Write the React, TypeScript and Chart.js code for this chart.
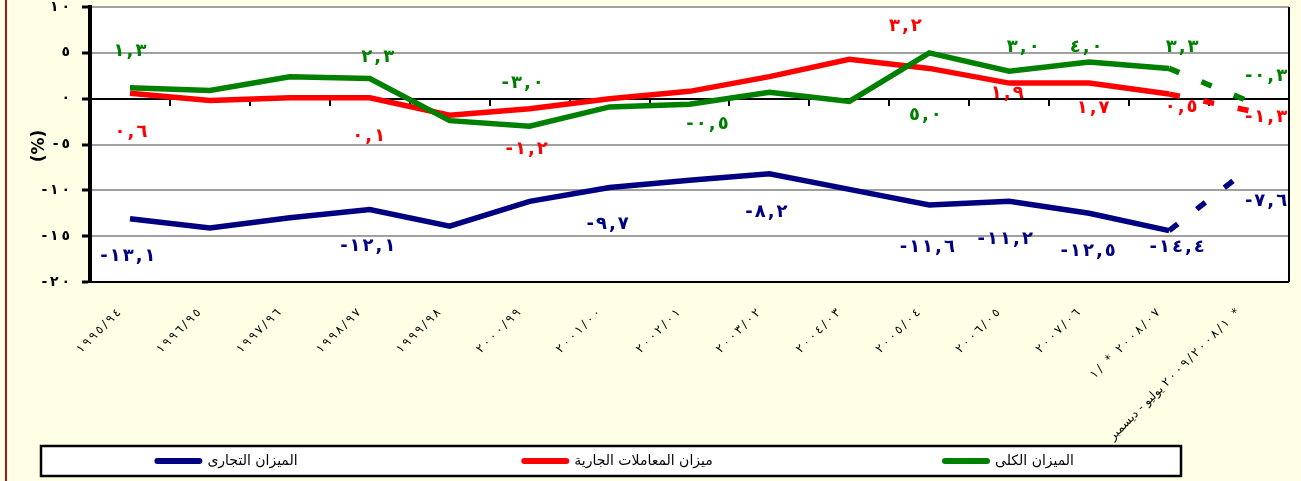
import React, { useEffect, useRef } from 'react';
import { Chart, registerables } from 'chart.js';

Chart.register(...registerables);

const LRO = '\u202D';
const PDF = '\u202C';
const THIN = '\u2009';

const categories = [
  '١٩٩٥/٩٤', '١٩٩٦/٩٥', '١٩٩٧/٩٦', '١٩٩٨/٩٧', '١٩٩٩/٩٨',
  '٢٠٠٠/٩٩', '٢٠٠١/٠٠', '٢٠٠٢/٠١', '٢٠٠٣/٠٢', '٢٠٠٤/٠٣',
  '٢٠٠٥/٠٤', '٢٠٠٦/٠٥', '٢٠٠٧/٠٦', '١/ * ٢٠٠٨/٠٧',
  '٢٠٠٩/٢٠٠٨/١ *',
];
const lastCategoryPrefix = 'يوليو - ديسمبر';

const seriesNames = ['الميزان الكلى', 'ميزان المعاملات الجارية', 'الميزان التجارى'];
const seriesColors = ['#008000', '#FF0000', '#000080'];

const overallBalance = [1.2, 0.9, 2.4, 2.2, -2.4, -3.0, -0.9, -0.6, 0.7, -0.3, 5.0, 3.0, 4.0, 3.3, -0.3];
const currentAccount = [0.6, -0.2, 0.1, 0.1, -1.8, -1.1, 0.0, 0.8, 2.4, 4.3, 3.3, 1.7, 1.7, 0.5, -1.3];
const tradeBalance = [-13.1, -14.1, -13.0, -12.1, -13.9, -11.2, -9.7, -8.9, -8.2, -9.9, -11.6, -11.2, -12.5, -14.4, -7.6];

const overallLabels = ['١,٣', null, null, '٢,٣', null, '-٣,٠', null, '-٠,٥', null, null, '٥,٠', '٣,٠', '٤,٠', '٣,٣', '-٠,٣'];
const currentLabels = ['٠,٦', null, null, '٠,١', null, '-١,٢', null, null, null, null, '٣,٢', '١,٩', '١,٧', '٠,٥', '-١,٣'];
const tradeLabels = ['-١٣,١', null, null, '-١٢,١', null, null, '-٩,٧', null, '-٨,٢', null, '-١١,٦', '-١١,٢', '-١٢,٥', '-١٤,٤', '-٧,٦'];

const yTickValues = [-20, -15, -10, -5, 0, 5, 10];
const yTickLabels = ['-٢٠', '-١٥', '-١٠', '-٥', '٠', '٥', '١٠'];

// label placement (pixel offsets from the point), layout only
const labelOffsets: (number[] | null)[][] = [
  [[0, -36], null, null, [8, -21], null, [-7, -43], null, [18, 20], null, null, [-4, 62], [14, -24], [-3, -15], [13, -21], [17, -25]],
  [[1, 39], null, null, [-1, 39], null, [-3, 41], null, null, null, null, [-24, -42], [-2, 10], [4, 25], [12, 13], [17, 7]],
  [[-2, 38], null, null, [-2, 37], null, null, [-2, 37], null, [-3, 38], null, [-2, 42], [-4, 38], [-1, 38], [8, 17], [17, 33]],
];

const BG = '#FFFFE5';
const FONT = "'DejaVu Sans', sans-serif";

const spread = (s: string) => Array.from(s).join(THIN);

function drawSpaced(ctx: CanvasRenderingContext2D, text: string, cx: number, cy: number, sp: number) {
  const chars = Array.from(text);
  const widths = chars.map((c) => ctx.measureText(c).width);
  const total = widths.reduce((a, b) => a + b, 0) + sp * (chars.length - 1);
  let x = cx - total / 2;
  ctx.textAlign = 'left';
  chars.forEach((c, i) => {
    ctx.fillText(c, x, cy);
    x += widths[i] + sp;
  });
}

const decorPlugin = {
  id: 'decor',
  beforeDraw(chart: any) {
    const { ctx, chartArea: a } = chart;
    ctx.save();
    ctx.fillStyle = BG;
    ctx.fillRect(0, 0, chart.width, chart.height);
    ctx.fillStyle = '#FFFFFF';
    ctx.fillRect(a.left, a.top, a.right - a.left, a.bottom - a.top);
    ctx.fillStyle = '#A31A1A';
    ctx.fillRect(5, 0, 2, chart.height);
    ctx.translate(40, 146);
    ctx.rotate(-Math.PI / 2);
    ctx.fillStyle = '#000';
    ctx.font = `bold 17px ${FONT}`;
    ctx.textAlign = 'center';
    ctx.textBaseline = 'middle';
    ctx.fillText('(%)', 0, 0);
    ctx.restore();
  },
  beforeDatasetsDraw(chart: any) {
    const { ctx, chartArea: a } = chart;
    const allLabels = [overallLabels, currentLabels, tradeLabels];
    ctx.save();
    ctx.beginPath();
    ctx.rect(a.left, a.top, a.right - a.left, a.bottom - a.top);
    ctx.clip();
    ctx.font = `bold 18px ${FONT}`;
    ctx.textBaseline = 'middle';
    allLabels.forEach((labels, di) => {
      const meta = chart.getDatasetMeta(di);
      ctx.fillStyle = seriesColors[di];
      labels.forEach((txt, i) => {
        const off = labelOffsets[di][i];
        if (!txt || !off) return;
        const p = meta.data[i];
        drawSpaced(ctx, txt, p.x + off[0], p.y + off[1], 2);
      });
    });
    ctx.restore();
  },
  afterDraw(chart: any) {
    const { ctx, chartArea: a } = chart;
    ctx.save();
    ctx.strokeStyle = '#000';
    ctx.lineWidth = 2;
    ctx.beginPath();
    ctx.moveTo(a.right, a.top);
    ctx.lineTo(a.right, a.bottom);
    ctx.stroke();
    const bx = 41, by = 446, bw = chart.width - 120 - bx, bh = 30;
    ctx.fillStyle = '#FFFFFF';
    ctx.fillRect(bx, by, bw, bh);
    ctx.strokeStyle = '#000';
    ctx.lineWidth = 2.5;
    ctx.strokeRect(bx, by, bw, bh);
    ctx.font = `14px ${FONT}`;
    ctx.textBaseline = 'middle';
    ctx.textAlign = 'left';
    const cx = bx + bw / 2 + 6;
    const step = 391;
    const order = [2, 1, 0];
    order.forEach((di, k) => {
      const center = cx + (k - 1) * step;
      const tw = ctx.measureText(seriesNames[di]).width;
      const sw = 48, gap = 5;
      const total = sw + gap + tw;
      const x0 = center - total / 2;
      const yy = by + bh / 2;
      ctx.strokeStyle = seriesColors[di];
      ctx.lineWidth = 6;
      ctx.lineCap = 'round';
      ctx.beginPath();
      ctx.moveTo(x0 + 3, yy);
      ctx.lineTo(x0 + sw - 3, yy);
      ctx.stroke();
      ctx.fillStyle = '#000';
      ctx.fillText(seriesNames[di], x0 + sw + gap, yy);
    });
    ctx.restore();
  },
};

export default function App() {
  const ref = useRef<HTMLCanvasElement | null>(null);
  useEffect(() => {
    if (!ref.current) return;
    const dashLast = (ctx: any) => (ctx.p0DataIndex === 13 ? [11, 24] : undefined);
    const mk = (label: string, data: number[], color: string) => ({
      label,
      data,
      borderColor: color,
      backgroundColor: color,
      borderWidth: 5.5,
      pointRadius: 0,
      tension: 0,
      borderCapStyle: 'butt',
      segment: { borderDash: dashLast },
    });
    const tickLabels = categories.map((c, i) => {
      const num = LRO + spread(c) + '    ' + PDF;
      return i === categories.length - 1 ? '\u2067' + lastCategoryPrefix + '\u2069 ' + num : num;
    });
    const chart = new Chart(ref.current, {
      type: 'line',
      data: {
        labels: tickLabels,
        datasets: [
          mk(seriesNames[0], overallBalance, seriesColors[0]),
          mk(seriesNames[1], currentAccount, seriesColors[1]),
          mk(seriesNames[2], tradeBalance, seriesColors[2]),
        ] as any,
      },
      options: {
        responsive: false,
        animation: false,
        devicePixelRatio: 1,
        layout: { padding: { top: 7, right: 12, left: 0, bottom: 0 } },
        plugins: { legend: { display: false }, tooltip: { enabled: false }, title: { display: false } },
        scales: {
          x: {
            type: 'category',
            position: 'bottom',
            offset: true,
            grid: { display: false },
            border: { display: false },
            ticks: {
              autoSkip: false,
              minRotation: 45,
              maxRotation: 45,
              padding: 5,
              color: '#000',
              font: { family: FONT, size: 12 },
            },
            afterFit: (s: any) => {
              s.height = 199;
              s.paddingLeft = 0; s.paddingRight = 0; s.paddingTop = 0; s.paddingBottom = 0;
            },
          },
          x2: {
            type: 'category',
            labels: categories,
            position: { y: 0 },
            offset: true,
            grid: {
              display: true,
              drawOnChartArea: false,
              drawTicks: true,
              tickLength: 6,
              offset: true,
              color: '#000',
              lineWidth: 2,
            },
            border: { display: true, color: '#000', width: 2 },
            ticks: { display: false },
          },
          y: {
            min: -20,
            max: 10,
            afterBuildTicks: (s: any) => {
              s.ticks = yTickValues.map((v) => ({ value: v }));
            },
            grid: {
              color: (c: any) => (c.tick && (c.tick.value === -20 || c.tick.value === 0) ? '#000' : '#A0A0A0'),
              lineWidth: 2,
              tickColor: '#000',
              tickWidth: 3,
              tickLength: 8,
            },
            border: { display: true, color: '#000', width: 4 },
            ticks: {
              padding: 12,
              color: '#000',
              font: { family: FONT, size: 14, weight: 'bold' },
              callback: (v: any) => {
                const i = yTickValues.indexOf(Number(v));
                return i >= 0 ? LRO + spread(yTickLabels[i]) + PDF : '';
              },
            },
            afterFit: (s: any) => {
              s.width = 90;
              s.paddingLeft = 0; s.paddingRight = 0; s.paddingTop = 0; s.paddingBottom = 0;
            },
          },
        },
      } as any,
      plugins: [decorPlugin],
    });
    return () => chart.destroy();
  }, []);
  return (
    <div style={{ position: 'fixed', left: 0, top: 0, width: 1301, height: 481, background: BG }}>
      <canvas ref={ref} width={1301} height={481} style={{ display: 'block' }} />
    </div>
  );
}
